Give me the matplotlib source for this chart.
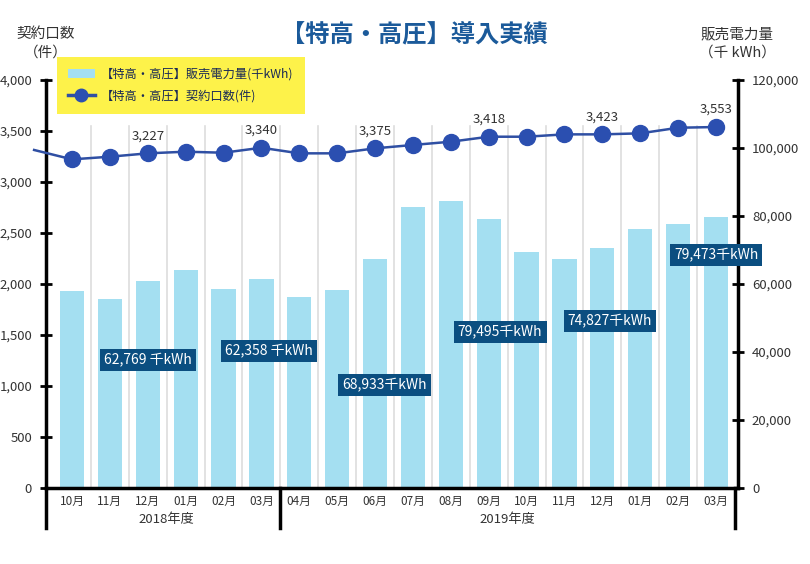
import matplotlib.pyplot as plt
from matplotlib.patches import Patch
from matplotlib.lines import Line2D
from matplotlib.transforms import blended_transform_factory

plt.rcParams['font.family'] = ['Noto Sans CJK JP', 'DejaVu Sans']

# data
months = ['10月', '11月', '12月', '01月', '02月', '03月',
          '04月', '05月', '06月', '07月', '08月', '09月',
          '10月', '11月', '12月', '01月', '02月', '03月']
years = ['2018年度', '2019年度']
year_sizes = [6, 12]
sales = [57900, 55600, 60900, 64100, 58400, 61500,
         56300, 58200, 67400, 82700, 84400, 79100,
         69300, 67300, 70500, 76200, 77600, 79600]
contracts = [3222, 3248, 3281, 3297, 3287, 3336,
             3281, 3281, 3330, 3363, 3395, 3444,
             3444, 3467, 3467, 3477, 3532, 3539]
contract_prev = 3314  # 2018/09, only the line segment shows
point_label_idx = [2, 5, 8, 11, 14, 17]
point_labels = ['3,227', '3,340', '3,375', '3,418', '3,423', '3,553']
box_texts = ['62,769 千kWh', '62,358 千kWh', '68,933千kWh',
             '79,495千kWh', '74,827千kWh', '79,473千kWh']
box_x = [2, 5.2, 8.25, 11.3, 14.2, 17]
box_y = [1255, 1343, 1010, 1529, 1637, 2284]

bar_color = '#a4dff1'
line_color = '#2f4fa3'
dot_color = '#2b4fb0'
box_color = '#0b4e80'
txt = '#333333'

fig = plt.figure(figsize=(8.1, 5.64), dpi=100)
ax = fig.add_axes([46 / 810, 1 - 488 / 564, (738 - 46) / 810, 408 / 564])
ax2 = ax.twinx()
ax.set_zorder(ax2.get_zorder() + 1)
ax.patch.set_visible(False)

x = list(range(len(months)))
ax2.bar(x, sales, width=0.64, color=bar_color, zorder=2)
for k in range(len(months) - 1):
    ax2.plot([k + 0.5, k + 0.5], [0, 106500], color='#dddddd', lw=1.2, zorder=1)

ax.plot([-1] + x, [contract_prev] + contracts, color=line_color, lw=1.8,
        clip_on=False, zorder=3)
ax.plot(x, contracts, 'o', color=dot_color, ms=11.5, zorder=4, clip_on=False)
for i, lab in zip(point_label_idx, point_labels):
    ax.annotate(lab, (i, contracts[i]), xytext=(0, 8), textcoords='offset points',
                ha='center', va='bottom', fontsize=9.5, color=txt)

for bx, by, t in zip(box_x, box_y, box_texts):
    ax.text(bx, by, t, ha='center', va='center', fontsize=10, color='white',
            bbox=dict(boxstyle='square,pad=0.3', fc=box_color, ec='none'), zorder=5)

ax.set_xlim(-0.686, 17.58)
ax.set_ylim(0, 4000)
ax2.set_ylim(0, 120000)
ax.set_yticks(range(0, 4001, 500))
ax.set_yticklabels([f'{v:,}' for v in range(0, 4001, 500)])
ax2.set_yticks(range(0, 120001, 20000))
ax2.set_yticklabels([f'{v:,}' for v in range(0, 120001, 20000)])
ax.set_xticks(x)
ax.set_xticklabels(months)

for a in (ax, ax2):
    for s in a.spines.values():
        s.set_visible(False)
ax.spines['left'].set_visible(True)
ax.spines['left'].set_linewidth(2.5)
ax.spines['bottom'].set_visible(True)
ax.spines['bottom'].set_linewidth(2.5)
ax2.spines['right'].set_visible(True)
ax2.spines['right'].set_linewidth(2.5)

ax.tick_params(axis='y', direction='inout', length=8, width=2, labelsize=9.5,
               labelcolor=txt, pad=6)
ax2.tick_params(axis='y', direction='inout', length=8, width=2, labelsize=9.5,
                labelcolor=txt, pad=6)
ax.tick_params(axis='x', length=0, labelsize=8.5, labelcolor=txt, pad=5)

# year groups below month labels
tr = blended_transform_factory(ax.transData, ax.transAxes)
start = -0.5
edges = [-0.686]
for y, n in zip(years, year_sizes):
    end = start + n
    ax.text((max(start, -0.686) + min(end, 17.58)) / 2, -0.078, y, transform=tr,
            ha='center', va='center', fontsize=9.5, color=txt)
    edges.append(min(end, 17.58))
    start = end
for e in edges:
    ax.plot([e, e], [0, -0.098], transform=tr, color='black', lw=2.5, clip_on=False)

fig.text(414 / 810, 1 - 34 / 564, '【特高・高圧】導入実績', ha='center', va='center',
         fontsize=17.5, fontweight='bold', color='#1b5a9a')
fig.text(46 / 810, 1 - 34 / 564, '契約口数', ha='center', va='center', fontsize=10.5, color=txt)
fig.text(46 / 810, 1 - 53 / 564, '（件）', ha='center', va='center', fontsize=10.5, color=txt)
fig.text(737 / 810, 1 - 34 / 564, '販売電力量', ha='center', va='center', fontsize=10.5, color=txt)
fig.text(737 / 810, 1 - 53 / 564, '（千 kWh）', ha='center', va='center', fontsize=10.5, color=txt)

handles = [Patch(facecolor=bar_color, edgecolor='none'),
           Line2D([], [], color=line_color, lw=2.5, marker='o', ms=9, mfc=dot_color, mec=dot_color)]
labels = ['【特高・高圧】販売電力量(千kWh)', '【特高・高圧】契約口数(件)']
leg = fig.legend(handles, labels, loc='upper left', bbox_to_anchor=(57 / 810, 1 - 57 / 564),
                 borderaxespad=0, fontsize=8.8, frameon=True, facecolor='#fdf24a',
                 edgecolor='none', framealpha=1, fancybox=False, handlelength=2.2,
                 borderpad=0.9, labelspacing=0.7, handletextpad=0.5)
for t in leg.get_texts():
    t.set_color('#1a2a55')
leg.set_zorder(10)

fig.savefig('out.png', dpi=100)
